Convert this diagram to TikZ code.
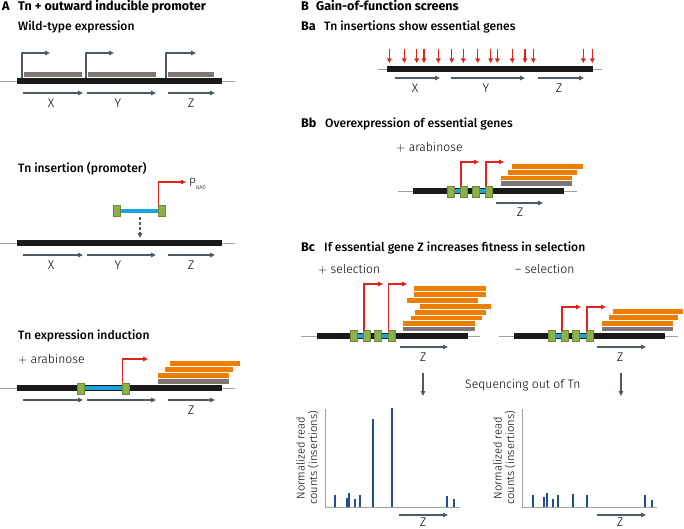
\documentclass[tikz,border=0pt]{standalone}
\usepackage{fontspec}
\setmainfont{Fira Sans}
\newfontfamily\medfont{Fira Sans Medium}
\newfontfamily\lightfont{Fira Sans Light}
\usetikzlibrary{arrows.meta}
\definecolor{chromblack}{HTML}{1A1A1A}
\definecolor{thingray}{HTML}{A0A0A0}
\definecolor{arrgray}{HTML}{4B5B63}
\definecolor{browngray}{HTML}{7F7673}
\definecolor{orangec}{HTML}{EF7D00}
\definecolor{tnred}{HTML}{E2231A}
\definecolor{tngreen}{HTML}{8DB04A}
\definecolor{tngreendark}{HTML}{6A8A35}
\definecolor{tnblue}{HTML}{1AA3DD}
\definecolor{chartblue}{HTML}{1F4E91}
\newcommand\tnsq[2]{\filldraw[gsqs] (#1,#2) rectangle ++(7,11);}
\newcommand\obar[4]{\fill[orangec] (#1,#2) rectangle (#3,#4);}
\newcommand\gbar[4]{\fill[browngray] (#1,#2) rectangle (#3,#4);}
\newcommand\plussign{$+$}
\begin{document}
\begin{tikzpicture}[x=1pt,y=-1pt,
  chrom/.style={line width=5.5pt, draw=chromblack},
  thinl/.style={line width=0.7pt, draw=thingray},
  genearr/.style={line width=1.3pt, draw=arrgray, -{Triangle[length=5pt,width=4.5pt]}},
  prom/.style={line width=1.3pt, draw=arrgray, -{Triangle[length=5pt,width=4.5pt]}},
  redprom/.style={line width=1.3pt, draw=tnred, -{Triangle[length=5pt,width=4.5pt]}},
  redins/.style={line width=1.3pt, draw=tnred, -{Triangle[length=4.5pt,width=4.5pt]}},
  tnline/.style={line width=4pt, draw=tnblue},
  gsqs/.style={fill=tngreen, draw=tngreendark, line width=0.5pt},
  cbar/.style={line width=2pt, draw=chartblue},
  axisl/.style={line width=0.7pt, draw=thingray},
  hd/.style={anchor=base west, inner sep=0pt, font=\fontsize{12.6}{14}\selectfont\bfseries},
  sub/.style={anchor=base west, inner sep=0pt, font=\fontsize{12.1}{14}\selectfont\medfont},
  lbl/.style={anchor=base west, inner sep=0pt, font=\fontsize{12.2}{14}\selectfont\lightfont},
  gl/.style={inner sep=0pt, font=\fontsize{12.5}{13}\selectfont\lightfont},
  ylab/.style={inner sep=0pt, rotate=90, align=center, font=\fontsize{11.2}{12.5}\selectfont\lightfont}
]
\useasboundingbox (0,0) rectangle (684,529);

% ---------------- Panel A headings
\node[hd] (tA) at (2,10.5) {A};
\node[hd] (tAt) at (18,10.5) {Tn + outward inducible promoter};
\node[sub] (tA1) at (18,31) {Wild-type expression};

% wild type
\draw[thinl] (0,81) -- (235,81);
\draw[chrom] (17,81) -- (222,81);
\gbar{24}{72}{82}{77}
\gbar{88}{72}{156}{77}
\gbar{168}{72}{214}{77}
\draw[prom] (22,78) |- (50,53);
\draw[prom] (86,78) |- (114,53);
\draw[prom] (166,78) |- (196,53);
\draw[genearr] (23,93) -- (83,93);
\draw[genearr] (87,93) -- (156,93);
\draw[genearr] (168,93) -- (215,93);
\node[gl] (x1) at (51,103) {X};
\node[gl] (y1) at (118,103) {Y};
\node[gl] (z1) at (191,103) {Z};

% Tn insertion
\node[sub] (tA2) at (18,173) {Tn insertion (promoter)};
\draw[tnline] (119,210.5) -- (159,210.5);
\tnsq{113}{205.5}
\tnsq{158}{205.5}
\draw[redprom] (158.6,205.5) |- (186,182);
\node[anchor=base west, inner sep=0pt, font=\fontsize{12}{12}\selectfont\lightfont] (pbad) at (189,186) {P\raisebox{-3pt}{\fontsize{5.5}{6}\selectfont BAD}};
\draw[line width=1.3pt, draw=arrgray, dash pattern=on 3pt off 2pt, -{Triangle[length=5pt,width=4.5pt]}] (140,217) -- (140,238);
\draw[thinl] (0,243) -- (235,243);
\draw[chrom] (17,243) -- (222,243);
\draw[genearr] (23,255) -- (83,255);
\draw[genearr] (87,255) -- (156,255);
\draw[genearr] (168,255) -- (215,255);
\node[gl] (x2) at (51,265) {X};
\node[gl] (y2) at (118,265) {Y};
\node[gl] (z2) at (191,265) {Z};

% Tn expression induction
\node[sub] (tA3) at (18,339) {Tn expression induction};
\node[lbl] (ara1) at (18,363) {\plussign\ arabinose};
\obar{170}{361}{240}{366}
\obar{165}{367}{233}{372}
\obar{158}{373}{229}{378}
\gbar{158}{379}{229}{384}
\draw[thinl] (0,388) -- (235,388);
\draw[chrom] (17,388) -- (222,388);
\draw[tnline] (83,388) -- (122,388);
\tnsq{77}{383}
\tnsq{122}{383}
\draw[redprom] (122.6,383) |- (148,359);
\draw[genearr] (23,400) -- (83,400);
\draw[genearr] (87,400) -- (156,400);
\draw[genearr] (168,400) -- (215,400);
\node[gl] (z3) at (191,410) {Z};

% ---------------- Panel B
\node[hd] (tB) at (301,10.5) {B};
\node[hd] (tBt) at (316,10.5) {Gain-of-function screens};
\node[hd] (tBa) at (301,31) {Ba};
\node[sub] (tBat) at (324,31) {Tn insertions show essential genes};

% Ba
\draw[thinl] (378,69) -- (602,69);
\draw[chrom] (387,69) -- (593,69);
\foreach \xx in {389.3,404.3,416.7,424,438.3,451.7,463.3,477.7,490.7,497.3,512.3,525,533.3,583.3,592.3}
  \draw[redins] (\xx,49) -- (\xx,63);
\draw[genearr] (395,78) -- (440,78);
\draw[genearr] (451,78) -- (525,78);
\draw[genearr] (538,78) -- (584,78);
\node[gl] (xa) at (415,88) {X};
\node[gl] (ya) at (486,88) {Y};
\node[gl] (za) at (559,88) {Z};

% Bb
\node[hd] (tBb) at (301,128) {Bb};
\node[sub] (tBbt) at (325,128) {Overexpression of essential genes};
\node[lbl] (ara2) at (396,152) {\plussign\ arabinose};
\obar{512}{164}{583}{169}
\obar{508}{170}{577}{175}
\obar{501}{176}{572}{180.5}
\gbar{501}{181.5}{572}{186}
\draw[thinl] (398,191) -- (577,191);
\draw[chrom] (413,191) -- (564,191);
\draw[tnline] (453,191) -- (462,191);
\draw[tnline] (477,191) -- (487,191);
\tnsq{447}{186}
\tnsq{460.5}{186}
\tnsq{472}{186}
\tnsq{485.5}{186}
\draw[redprom] (461,186) |- (479,162);
\draw[redprom] (486,186) |- (504,162);
\draw[genearr] (496,203) -- (543,203);
\node[gl] (zb) at (520,212) {Z};

% Bc
\node[hd] (tBc) at (301,251) {Bc};
\node[sub] (tBct) at (324,251) {If essential gene Z increases fitness in selection};
\node[lbl] (sp) at (318,273) {\plussign\ selection};
\node[lbl] (sm) at (515,273) {\textendash\ selection};

% + selection construct
\obar{414}{285.5}{486}{290.5}
\obar{414}{291.5}{486}{296.5}
\obar{407}{297.5}{478}{302.5}
\obar{420}{303.5}{491}{308.5}
\obar{415}{309.5}{486}{314.5}
\obar{411}{315.5}{482}{319.5}
\obar{403}{320.5}{475}{325.5}
\gbar{403}{326.5}{475}{331}
\draw[thinl] (301,336) -- (480,336);
\draw[chrom] (317,336) -- (468,336);
\draw[tnline] (356,336) -- (364,336);
\draw[tnline] (380,336) -- (389,336);
\tnsq{350}{330.5}
\tnsq{363.5}{330.5}
\tnsq{374}{330.5}
\tnsq{388}{330.5}
\draw[redprom] (364,330.5) |- (383,284);
\draw[redprom] (388.5,330.5) |- (407,284);
\draw[genearr] (400,347) -- (448,347);
\node[gl] (zc1) at (423,357) {Z};

% - selection construct
\obar{613}{308.5}{683}{313.5}
\obar{609}{314.5}{678}{319.5}
\obar{602}{320.5}{673}{325.5}
\gbar{602}{326.5}{673}{331}
\draw[thinl] (499,336) -- (678,336);
\draw[chrom] (514,336) -- (665,336);
\draw[tnline] (554,336) -- (563,336);
\draw[tnline] (578,336) -- (588,336);
\tnsq{548}{330.5}
\tnsq{561.5}{330.5}
\tnsq{572}{330.5}
\tnsq{586.5}{330.5}
\draw[redprom] (562,330.5) |- (581,307);
\draw[redprom] (587,330.5) |- (606,307);
\draw[genearr] (597,347) -- (646,347);
\node[gl] (zc2) at (620,357) {Z};

% sequencing arrows
\draw[genearr] (423,373) -- (423,396);
\draw[genearr] (621,373) -- (621,396);
\node[lbl] (seq) at (465,388) {Sequencing out of Tn};

% + chart
\draw[axisl] (325,409) -- (325,507) -- (460,507);
\node[ylab] (yl1) at (307.5,458) {Normalized read\\counts (insertions)};
\foreach \xx/\tt in {335/495,347/498,349.3/493,355/499,360/495,373/419,392/408,447/496,454/499}
  \draw[cbar] (\xx,506.6) -- (\xx,\tt);
\draw[genearr] (399,515) -- (448,515);
\node[gl] (zd1) at (423,522) {Z};

% - chart
\draw[axisl] (522,409) -- (522,507) -- (657,507);
\node[ylab] (yl2) at (504.5,458) {Normalized read\\counts (insertions)};
\foreach \xx/\tt in {533/495,544/497,547/493,553/499,558/495,573/494,587/495,645/495,652/500}
  \draw[cbar] (\xx,506.6) -- (\xx,\tt);
\draw[genearr] (597,515) -- (646,515);
\node[gl] (zd2) at (620,522) {Z};
\end{tikzpicture}
\end{document}
